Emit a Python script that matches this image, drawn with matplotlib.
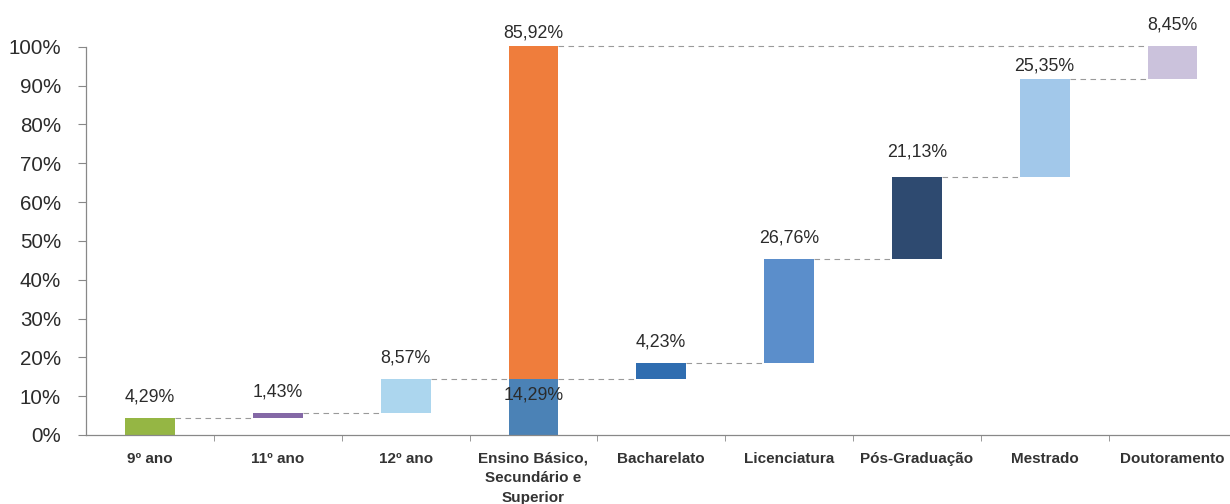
import matplotlib.pyplot as plt
import numpy as np

plt.rcParams['font.family'] = ['Liberation Sans', 'DejaVu Sans']

categories = ['9º ano', '11º ano', '12º ano', 'Ensino Básico,\nSecundário e\nSuperior',
              'Bacharelato', 'Licenciatura', 'Pós-Graduação', 'Mestrado', 'Doutoramento']
# primeira parte (até ao 12º ano) e segunda parte (ensino superior)
basic_values = [4.29, 1.43, 8.57]
basic_total = 14.29
higher_total = 85.92
higher_values = [4.23, 26.76, 21.13, 25.35, 8.45]
labels = ['4,29%', '1,43%', '8,57%', '85,92%', '4,23%', '26,76%', '21,13%', '25,35%', '8,45%']
total_label = '14,29%'

colors = ['#95b644', '#8468a6', '#acd6ee', '#ef7d3c', '#2f6db0',
          '#5b8ecb', '#2e4a70', '#a2c8ea', '#cbc2dc']
total_color = '#4b82b6'

# bases dos blocos (cascata)
bottoms = []
heights = []
acc = 0
for v in basic_values:
    bottoms.append(acc)
    heights.append(v)
    acc += v
bottoms.append(basic_total)
heights.append(higher_total)
acc = basic_total
for v in higher_values:
    bottoms.append(acc)
    heights.append(v)
    acc += v

x = np.arange(len(categories))
w = 0.39

fig = plt.figure(figsize=(12.3, 5.04), dpi=100)
ax = fig.add_axes([0.07, 0.137, 0.93, 0.77])

ax.bar(x[3], basic_total, w, color=total_color, zorder=2)
ax.bar(x, heights, w, bottom=bottoms, color=colors, zorder=2, clip_on=False)

# linhas de ligação tracejadas
tops = [b + h for b, h in zip(bottoms, heights)]
line_kw = dict(color='#9a9a9a', lw=0.8, ls=(0, (5, 4)), zorder=1, clip_on=False)
for i in range(len(x) - 1):
    if i == 3:
        ax.plot([x[3] + w / 2, x[4] - w / 2], [basic_total, basic_total], **line_kw)
        ax.plot([x[3] + w / 2, x[8] - w / 2], [tops[3], tops[3]], **line_kw)
        continue
    ax.plot([x[i] + w / 2, x[i + 1] - w / 2], [tops[i], tops[i]], **line_kw)

offsets = [9, 9, 9, 3, 9, 9, 12, 3, 9]
for i, lab in enumerate(labels):
    ax.annotate(lab, (x[i], tops[i]), xytext=(0, offsets[i]), textcoords='offset points',
                ha='center', va='bottom', fontsize=12.8, color='#2b2b2b',
                annotation_clip=False)
ax.annotate(total_label, (x[3], basic_total), xytext=(0, -5), textcoords='offset points',
            ha='center', va='top', fontsize=12.8, color='#2b2b2b')

ax.set_xlim(-0.5, 8.45)
ax.set_ylim(0, 100)
ax.set_yticks(np.arange(0, 101, 10))
ax.set_yticklabels([f'{t}%' for t in range(0, 101, 10)], fontsize=14.8, color='#2b2b2b')
ax.set_xticks(x)
ax.set_xticklabels(categories, fontsize=11, fontweight='bold', color='#333333', linespacing=1.5)
ax.set_xticks(np.arange(0.5, 8.5, 1), minor=True)
ax.tick_params(axis='x', which='major', length=0, pad=12)
ax.tick_params(axis='x', which='minor', length=4, color='#888888')
ax.tick_params(axis='y', length=6, color='#888888', pad=12)

for s in ['top', 'right']:
    ax.spines[s].set_visible(False)
for s in ['left', 'bottom']:
    ax.spines[s].set_color('#888888')
    ax.spines[s].set_linewidth(0.9)

fig.savefig('out.png', dpi=100)
